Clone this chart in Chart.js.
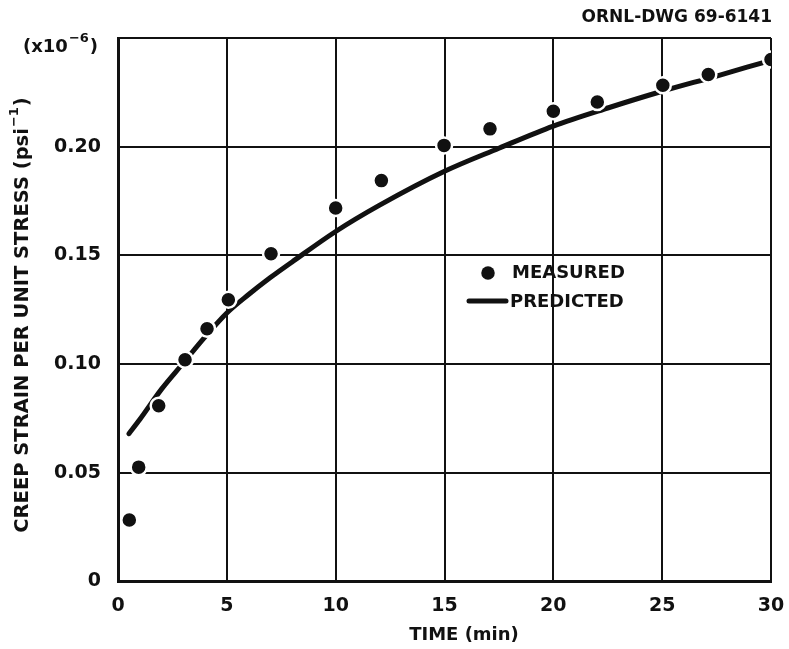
<!DOCTYPE html>
<html>
<head>
<meta charset="utf-8">
<script src="https://cdn.jsdelivr.net/npm/chart.js@4.4.1/dist/chart.umd.min.js"></script>
<style>
  html, body { margin: 0; padding: 0; background: #fff; }
  #wrap { width: 789px; height: 649px; position: relative; }
</style>
</head>
<body>
<div id="wrap"><canvas id="c" width="789" height="649"></canvas></div>
<script>
// Creep strain per unit stress vs time (x10^-6 psi^-1)
const measuredTime   = [0.52, 0.95, 1.87, 3.08, 4.09, 5.07, 7.03, 10.0, 12.1, 14.98, 17.09, 20.0, 22.02, 25.03, 27.12, 30.0];
const measuredStrain = [0.0283, 0.0526, 0.0808, 0.102, 0.1163, 0.1296, 0.1508, 0.1718, 0.1844, 0.2006, 0.2082, 0.2163, 0.2206, 0.2283, 0.2332, 0.2401];

const predictedTime   = [0.5, 1, 2, 3, 4, 5, 6, 7, 8, 10, 12, 15, 17.5, 20, 22.5, 25, 27.5, 29.6];
const predictedStrain = [0.068, 0.0745, 0.0885, 0.1005, 0.1125, 0.1235, 0.132, 0.1398, 0.147, 0.161, 0.173, 0.1887, 0.1993, 0.2095, 0.2178, 0.2255, 0.2325, 0.2386];

const xTicks = [0, 5, 10, 15, 20, 25, 30];
const yTicks = [0, 0.05, 0.10, 0.15, 0.20, 0.25];

const FONT = '"DejaVu Sans", "Liberation Sans", sans-serif';
const INK = '#111';

const toXY = (xs, ys) => xs.map((x, i) => ({ x, y: ys[i] }));

// draw text followed by a raised, smaller exponent and a closing tail
function textWithExponent(ctx, x, y, base, exp, tail, size, supSize, rise) {
  ctx.textAlign = 'left';
  ctx.font = 'bold ' + size + 'px ' + FONT;
  ctx.fillText(base, x, y);
  x += ctx.measureText(base).width;
  ctx.font = 'bold ' + supSize + 'px ' + FONT;
  ctx.fillText(exp, x + 1, y - rise);
  x += ctx.measureText(exp).width + 2;
  ctx.font = 'bold ' + size + 'px ' + FONT;
  ctx.fillText(tail, x, y);
}
function widthWithExponent(ctx, base, exp, tail, size, supSize) {
  ctx.font = 'bold ' + size + 'px ' + FONT;
  let w = ctx.measureText(base).width + ctx.measureText(tail).width;
  ctx.font = 'bold ' + supSize + 'px ' + FONT;
  return w + ctx.measureText(exp).width + 2;
}

// Titles, scale factor and legend drawn around the plot area
const decorations = {
  id: 'decorations',
  afterDraw(chart) {
    const ctx = chart.ctx;
    ctx.save();
    ctx.fillStyle = INK;
    ctx.strokeStyle = INK;
    ctx.textBaseline = 'middle';

    // drawing number, top right
    ctx.font = 'bold 17px ' + FONT;
    ctx.textAlign = 'right';
    ctx.fillText('ORNL-DWG 69-6141', 772, 18);

    // scale factor
    textWithExponent(ctx, 23, 47, '(x10', '\u22126', ')', 18, 13, 8);

    // x-axis title
    ctx.font = 'bold 18px ' + FONT;
    ctx.textAlign = 'center';
    ctx.fillText('TIME (min)', 464, 635);

    // y-axis title (rotated)
    ctx.save();
    ctx.translate(23, 315);
    ctx.rotate(-Math.PI / 2);
    const base = 'CREEP STRAIN PER UNIT STRESS (psi';
    const total = widthWithExponent(ctx, base, '\u22121', ')', 19.5, 13);
    textWithExponent(ctx, -total / 2, 0, base, '\u22121', ')', 19.5, 13, 8);
    ctx.restore();

    // legend
    const m = chart.data.datasets[0];
    const p = chart.data.datasets[1];
    ctx.beginPath();
    ctx.arc(488, 273, m.pointRadius - m.pointBorderWidth / 2, 0, Math.PI * 2);
    ctx.fillStyle = m.pointBackgroundColor;
    ctx.fill();
    ctx.beginPath();
    ctx.lineWidth = p.borderWidth;
    ctx.lineCap = 'round';
    ctx.moveTo(469, 301);
    ctx.lineTo(506, 301);
    ctx.strokeStyle = p.borderColor;
    ctx.stroke();
    ctx.fillStyle = INK;
    ctx.font = 'bold 18px ' + FONT;
    ctx.textAlign = 'left';
    ctx.fillText('MEASURED', 512, 273);
    ctx.fillText('PREDICTED', 510, 302);
    ctx.restore();
  }
};

new Chart(document.getElementById('c'), {
  type: 'scatter',
  data: {
    datasets: [
      {
        label: 'MEASURED',
        data: toXY(measuredTime, measuredStrain),
        pointRadius: 8,
        pointBackgroundColor: INK,
        pointBorderColor: '#fff',
        pointBorderWidth: 2.5,
        showLine: false,
        order: 1
      },
      {
        label: 'PREDICTED',
        data: toXY(predictedTime, predictedStrain),
        showLine: true,
        borderColor: INK,
        borderWidth: 5,
        borderCapStyle: 'round',
        pointRadius: 0,
        cubicInterpolationMode: 'monotone',
        order: 2
      }
    ]
  },
  options: {
    responsive: false,
    animation: false,
    devicePixelRatio: 1,
    layout: { padding: { left: 0, right: 18, top: 38, bottom: 0 } },
    plugins: {
      legend: { display: false },
      tooltip: { enabled: false }
    },
    scales: {
      x: {
        type: 'linear',
        min: 0, max: 30,
        afterFit(scale) {
          scale.height = 67.5;
          scale.paddingLeft = 0;
          scale.paddingRight = 0;
        },
        afterBuildTicks(scale) { scale.ticks = xTicks.map(v => ({ value: v })); },
        grid: { color: INK, lineWidth: 2, drawTicks: false },
        border: { color: INK, width: 3 },
        ticks: {
          color: INK,
          padding: 13,
          maxRotation: 0,
          font: { family: FONT, size: 19, weight: 'bold' },
          callback: v => String(v)
        }
      },
      y: {
        type: 'linear',
        min: 0, max: 0.25,
        afterFit(scale) {
          scale.width = 118;
          scale.paddingTop = 0;
          scale.paddingBottom = 0;
        },
        afterBuildTicks(scale) { scale.ticks = yTicks.map(v => ({ value: v })); },
        grid: { color: INK, lineWidth: 2, drawTicks: false },
        border: { color: INK, width: 3 },
        ticks: {
          color: INK,
          padding: 17,
          font: { family: FONT, size: 19, weight: 'bold' },
          callback: v => (v === 0 ? '0' : v === 0.25 ? '' : v.toFixed(2))
        }
      }
    }
  },
  plugins: [decorations]
});
</script>
</body>
</html>
